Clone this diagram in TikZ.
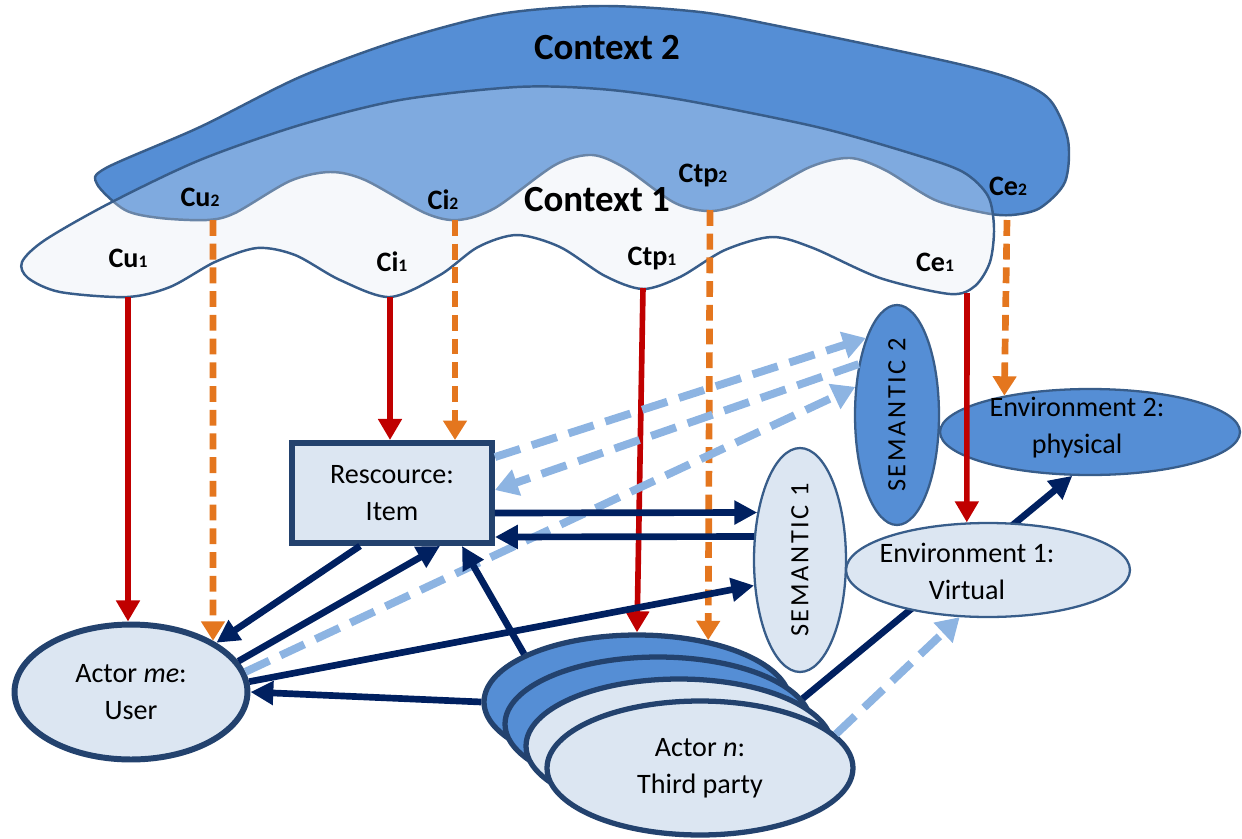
\documentclass[tikz,border=0pt]{standalone}
\usepackage{fontspec}
\setmainfont{Carlito}
\usetikzlibrary{arrows.meta}
\usetikzlibrary{shapes}
\definecolor{ctxblue}{RGB}{85,142,213}
\definecolor{ctxline}{RGB}{56,93,138}
\definecolor{ctxpale}{RGB}{243,246,250}
\definecolor{nodepale}{RGB}{220,230,242}
\definecolor{nodeline}{RGB}{35,66,110}
\definecolor{navyline}{RGB}{0,32,96}
\definecolor{ctxred}{RGB}{192,0,0}
\definecolor{ctxorange}{RGB}{228,118,30}
\definecolor{linkblue}{RGB}{141,180,226}
\tikzset{basic/.style={draw=nodeline,fill=nodepale,line width=3.4pt,inner sep=0pt,align=center,font=\fontsize{16}{21}\selectfont}}
\tikzset{actor/.style={basic,ellipse}}
\tikzset{resource/.style={basic,rectangle}}
\tikzset{third/.style={actor,line width=3pt,minimum width=6.12cm,minimum height=2.68cm}}
\tikzset{semantic/.style={ellipse,draw=ctxline,line width=1.3pt,inner sep=0pt,font=\fontsize{15}{15}\selectfont\addfontfeature{LetterSpace=10}}}
\tikzset{envir/.style={semantic}}
\tikzset{envtext/.style={font=\fontsize{16}{21}\selectfont,align=center}}
\tikzset{ctxtag/.style={font=\fontsize{16}{16}\selectfont\bfseries}}
\tikzset{ctxtitle/.style={font=\fontsize{21}{21}\selectfont\bfseries}}
\tikzset{flow/.style={draw=navyline,line width=3.8pt,-{Triangle[length=13pt,width=13pt]}}}
\tikzset{ctxsolid/.style={draw=ctxred,line width=3.2pt,-{Triangle[length=12pt,width=13pt]}}}
\tikzset{ctxdashed/.style={draw=ctxorange,line width=3.8pt,dash pattern=on 9pt off 4.5pt,-{Triangle[length=11pt,width=13pt]}}}
\tikzset{shared/.style={draw=linkblue,line width=4.5pt,dash pattern=on 15pt off 7pt,-{Triangle[length=13pt,width=15pt]}}}
\newcommand{\ix}[1]{{\fontsize{10}{10}\selectfont #1}}
% outlines of the two contexts, in pixels of the sketch
\newcommand{\ctxtwo}{plot[smooth cycle,tension=0.5] coordinates {(97,184) (106,168) (200,127) (300,77) (400,40) (500,14) (600,6) (700,12) (783,27) (950,62) (1015,80) (1050,100) (1068,140) (1065,182) (1040,208) (1012,215) (985,213) (935,200) (885,170) (850,158) (810,167) (750,200) (712,211) (675,203) (625,168) (592,155) (555,165) (495,208) (458,220) (425,213) (365,180) (330,172) (290,181) (235,213) (207,220) (160,218) (125,210)}}
\newcommand{\ctxone}{plot[smooth cycle,tension=0.5] coordinates {(22,262) (45,240) (110,203) (200,160) (300,125) (400,100) (517,87) (600,89) (683,100) (817,127) (913,154) (963,172) (988,196) (994,228) (990,262) (975,286) (950,294) (880,278) (813,248) (772,237) (725,250) (680,277) (643,289) (605,276) (560,247) (517,235) (478,247) (440,275) (390,297) (340,280) (295,255) (257,248) (215,262) (170,287) (127,297) (60,292) (28,278)}}

\begin{document}
\begin{tikzpicture}[x=0.02cm,y=-0.02cm]
        \useasboundingbox (0,0) rectangle (1242,839);
        % contexts
        \fill[ctxpale] \ctxone;
        \filldraw[fill=ctxblue,draw=ctxline,line width=1.4pt] \ctxtwo;
        \filldraw[fill=white,fill opacity=0.25,draw=ctxline,line width=1.4pt] \ctxone;
        \node[ctxtitle] (ctx2) at (607,48) {Context 2};
        \node[ctxtitle] (ctx1) at (597,200) {Context 1};
        \node[ctxtag] (lcu2) at (200,197) {Cu\ix{2}};
        \node[ctxtag] (lci2) at (443,200) {Ci\ix{2}};
        \node[ctxtag] (lctp2) at (703,175) {Ctp\ix{2}};
        \node[ctxtag] (lce2) at (1008,186) {Ce\ix{2}};
        \node[ctxtag] (lcu1) at (128,258) {Cu\ix{1}};
        \node[ctxtag] (lci1) at (392,262) {Ci\ix{1}};
        \node[ctxtag] (lctp1) at (652,258) {Ctp\ix{1}};
        \node[ctxtag] (lce1) at (935,262) {Ce\ix{1}};
        \coordinate (cu1) at (128,297);
        \coordinate (cu2) at (213,220);
        \coordinate (ci1) at (390,297);
        \coordinate (ci2) at (455,220);
        \coordinate (ctp1) at (643,288);
        \coordinate (ctp2) at (710,210);
        \coordinate (ce1) at (967,293);
        \coordinate (ce2) at (1007,220);
        % actors, resource and environments
        \node[actor,minimum width=4.66cm,minimum height=2.7cm] (me) at (131,692) {Actor \textit{me}:\\User};
        \node[resource,minimum width=4.0cm,minimum height=2.0cm] (box) at (392,493) {Rescource:\\Item};
        \node[envir,fill=ctxblue,minimum width=6.0cm,minimum height=1.72cm] (env2) at (1090,432) {};
        \node[envtext] (env2txt) at (1077,428) {Environment 2:\\physical};
        \node[semantic,fill=ctxblue,minimum width=1.68cm,minimum height=4.4cm] (sem2) at (897,415) {\rotatebox{90}{SEMANTIC 2}};
        \node[third,fill=ctxblue] (actna) at (637,702) {};
        \node[third,fill=ctxblue] (actnb) at (658,724) {};
        \node[third] (actnc) at (679,746) {};
        \node[third] (actn) at (700,768) {Actor \textit{n}:\\Third party};
        \draw[flow] (actnb.10) -- (env2.248);
        \node[envir,fill=nodepale,minimum width=5.68cm,minimum height=1.88cm] (env1) at (988,570) {};
        \node[envtext] (env1txt) at (967,571) {Environment 1:\\Virtual};
        \node[semantic,fill=nodepale,minimum width=1.84cm,minimum height=4.48cm] (sem1) at (800,560) {\rotatebox{90}{SEMANTIC 1}};
        % context links
        \draw[ctxsolid] (cu1) -- (cu1 |- me.north);
        \draw[ctxdashed] (cu2) -- (me.32);
        \draw[ctxsolid] (ci1) -- (ci1 |- box.north);
        \draw[ctxdashed] (ci2) -- (ci2 |- box.north);
        \draw[ctxsolid] (ctp1) -- (actna.north);
        \draw[ctxdashed] (ctp2) -- (actna.41);
        \draw[ctxsolid] (ce1) -- (env1.114);
        \draw[ctxdashed] (ce2) -- (env2.157);
        % shared semantics
        \draw[shared] ([yshift=0.72cm]box.east) -- (sem2.112);
        \draw[shared] (sem2.127) -- ([yshift=0.06cm]box.east);
        \draw[shared] (me.10) -- (sem2.146);
        \draw[shared] (actn.14) -- (env1.239);
        % interactions
        \draw[flow] ([xshift=-0.64cm]box.south) -- (me.30);
        \draw[flow] (me.16) -- ([xshift=0.96cm]box.south);
        \draw[flow] (actna.157) -- ([xshift=1.4cm]box.south);
        \draw[flow] (me.5) -- (sem1.209);
        \draw[flow] (actna.west) -- (me.east);
        \draw[flow] ([yshift=-0.4cm]box.east) -- (sem1.132);
        \draw[flow] (sem1.153) -- ([yshift=-0.88cm]box.east);
\end{tikzpicture}
\end{document}
